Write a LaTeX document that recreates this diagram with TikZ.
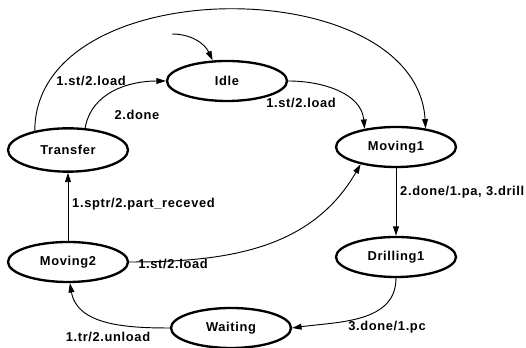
\documentclass[tikz,border=0pt]{standalone}
\usepackage{fontspec}
\setmainfont{Liberation Sans}[LetterSpace=5]
\usetikzlibrary{shapes.geometric,arrows.meta}

\begin{document}
\begin{tikzpicture}[x=0.03cm, y=0.03cm, font=\fontsize{11}{13}\selectfont\bfseries,
  state/.style={draw, ellipse, line width=2pt, minimum width=3.6cm,
                minimum height=1.2cm, inner sep=0pt},
  arr/.style={-{Triangle[length=8pt,width=5pt]}, line width=0.8pt},
  lbl/.style={inner sep=0pt}
]
  \useasboundingbox (0,0) rectangle (526,348);
  % states
  \node[state] (idle)      at (227,267) {Idle};
  \node[state] (moving1)   at (396,201) {Moving1};
  \node[state, minimum height=1.3cm] (transfer) at (68,198) {Transfer};
  \node[state] (moving2)   at (68,86)   {Moving2};
  \node[state] (drilling1) at (396,91)  {Drilling1};
  \node[state] (waiting)   at (231,20)  {Waiting};
  \coordinate (init) at (172,314);
  % transitions
  \draw[arr] (init) to[out=0, in=115] (idle.125);
  \draw[arr] (transfer.52) to[out=80, in=180] (idle.west);
  \draw[arr] (transfer.150) .. controls (35,378) and (416,378) .. (moving1.32);
  \draw[arr] (idle.east) to[out=0, in=95] (moving1.150);
  \draw[arr] (moving1) -- (drilling1);
  \draw[arr] (drilling1.south) to[out=-90, in=8] (waiting.east);
  \draw[arr] (waiting.west) to[out=180, in=-80] (moving2.-85);
  \draw[arr] (moving2) -- (transfer);
  \draw[arr] (moving2.east) to[out=0, in=-120] (moving1.206);
  % transition labels
  \node[lbl] (l1) at (91,267)  {1.st/2.load};
  \node[lbl] (l2) at (137,233) {2.done};
  \node[lbl] (l3) at (301,245) {1.st/2.load};
  \node[lbl, anchor=west] (l4) at (400,156) {2.done/1.pa, 3.drill};
  \node[lbl] (l5) at (387,21)  {3.done/1.pc};
  \node[lbl] (l6) at (108,11)  {1.tr/2.unload};
  \node[lbl, anchor=west] (l7) at (72,144) {1.sptr/2.part\_receved};
  \node[lbl] (l8) at (173,84)  {1.st/2.load};
\end{tikzpicture}
\end{document}
